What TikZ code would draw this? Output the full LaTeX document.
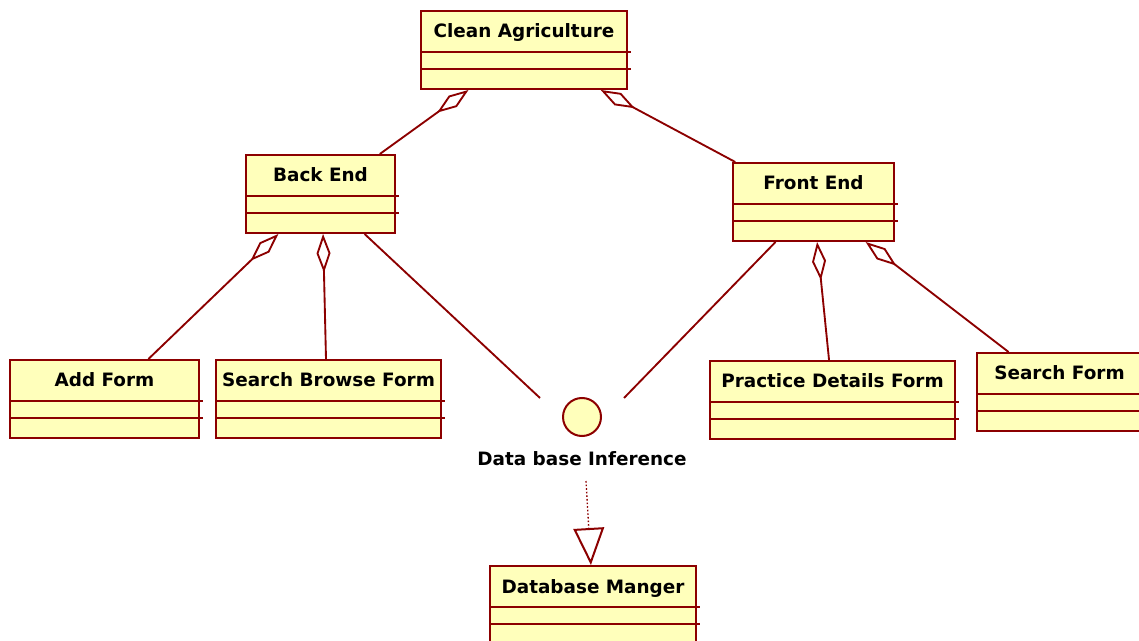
\documentclass[tikz,border=0pt]{standalone}
\usepackage{fontspec}
\setmainfont{DejaVu Sans}
\usepackage{tikz}
\usetikzlibrary{arrows.meta,calc}
\definecolor{umlred}{RGB}{140, 0, 0}
\definecolor{umlfill}{RGB}{255, 255, 187}

\begin{document}
\begin{tikzpicture}[x=0.75pt,y=0.75pt,yscale=-1,xscale=1,
  cls/.style={draw=umlred, fill=umlfill, line width=1.5pt, anchor=north west, inner xsep=2pt, inner ysep=0pt,
    text height=20.25pt, text depth=38.25pt, font=\fontsize{13.8}{16}\selectfont\bfseries},
  compline/.style={draw=umlred, line width=1.5pt},
  conn/.style={draw=umlred, line width=1.4pt},
  agg/.style={conn, {Diamond[fill=white, length=29pt, width=10.5pt]}-},
  iface/.style={circle, draw=umlred, fill=umlfill, line width=1.5pt, minimum size=28.5pt, inner sep=0pt},
  lbl/.style={font=\fontsize{13.8}{16}\selectfont\bfseries, inner sep=0pt},
  realize/.style={draw=umlred, line width=1pt, dash pattern=on 1.2pt off 1.5pt,
    -{Triangle[fill=white, length=27.75pt, width=23pt, line width=1.5pt]}}]
\useasboundingbox (0,0) rectangle (1139,641);

% Classes
\node[cls, minimum width=154.5pt] (ca) at (420,10) {Clean Agriculture};
\node[cls, minimum width=111.75pt] (be) at (245,154) {Back End};
\node[cls, minimum width=120.75pt] (fe) at (732,162) {Front End};
\node[cls, minimum width=141.75pt] (af) at (9,359) {Add Form};
\node[cls, minimum width=168.75pt] (sbf) at (215,359) {Search Browse Form};
\node[cls, minimum width=183.75pt] (pdf) at (709,360) {Practice Details Form};
\node[cls, minimum width=123.75pt] (sf) at (976,352) {Search Form};
\node[cls, minimum width=154.5pt] (dbm) at (489,565) {Database Manger};

% compartments
\foreach \n in {ca,be,fe,af,sbf,pdf,sf,dbm}{
  \draw[compline] ($(\n.north west)+(0,42)$) -- ($(\n.north east)+(3,42)$);
  \draw[compline] ($(\n.north west)+(0,59)$) -- ($(\n.north east)+(3,59)$);
}

% Interface
\node[iface] (dbi) at (582,417) {};
\node[lbl] (dbil) at (582,459) {Data base Inference};
\coordinate (dbiw) at ($(dbi)+(-42,-19)$);
\coordinate (dbie) at ($(dbi)+(42,-19)$);
\coordinate (dbis) at ($(dbil)+(4,22)$);

% Aggregations
\draw[agg] ($(ca.south west)!0.233!(ca.south east)$) -- ($(be.north west)!0.893!(be.north east)$);
\draw[agg] ($(ca.south west)!0.869!(ca.south east)$) -- ($(fe.north west)!0.02!(fe.north east)$);
\draw[agg] ($(be.south west)!0.221!(be.south east)$) -- ($(af.north west)!0.73!(af.north east)$);
\draw[agg] ($(be.south west)!0.517!(be.south east)$) -- ($(sbf.north west)!0.489!(sbf.north east)$);
\draw[agg] ($(fe.south west)!0.522!(fe.south east)$) -- ($(pdf.north west)!0.486!(pdf.north east)$);
\draw[agg] ($(fe.south west)!0.82!(fe.south east)$) -- ($(sf.north west)!0.195!(sf.north east)$);

% Interface links
\draw[conn] ($(be.south west)!0.792!(be.south east)$) -- (dbiw);
\draw[conn] ($(fe.south west)!0.267!(fe.south east)$) -- (dbie);
\draw[realize] (dbis) -- ($(dbm.north west)!0.49!(dbm.north east)$);

\end{tikzpicture}
\end{document}
